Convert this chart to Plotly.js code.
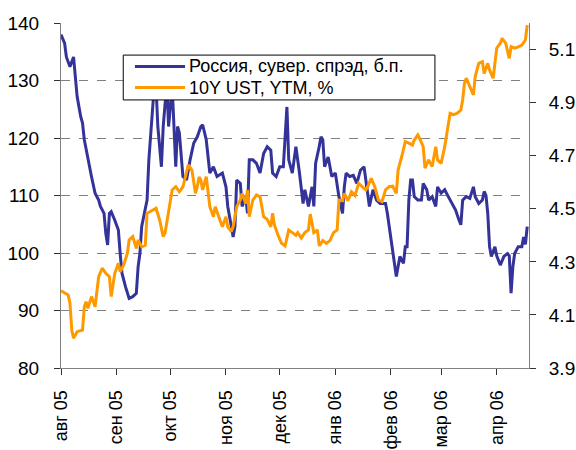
<!DOCTYPE html>
<html>
<head>
<meta charset="utf-8">
<script src="https://cdn.plot.ly/plotly-3.0.1.min.js"></script>
<style>html,body{margin:0;padding:0;background:#fff;}#chart{width:576px;height:450px;}</style>
</head>
<body>
<div id="chart"></div>
<script>
// Russia sovereign spread, b.p. (left axis)
const spreadDates = ['2005-08-01','2005-08-03','2005-08-04','2005-08-06','2005-08-08','2005-08-09','2005-08-10','2005-08-12','2005-08-13','2005-08-14','2005-08-16','2005-08-18','2005-08-20','2005-08-22','2005-08-23','2005-08-25','2005-08-26','2005-08-27','2005-08-28','2005-08-29','2005-08-31',
'2005-09-02','2005-09-03','2005-09-04','2005-09-06','2005-09-08','2005-09-10','2005-09-12','2005-09-13','2005-09-14','2005-09-15','2005-09-17','2005-09-18','2005-09-19','2005-09-20','2005-09-21','2005-09-22','2005-09-23','2005-09-24','2005-09-26','2005-09-27','2005-09-29','2005-09-30',
'2005-10-02','2005-10-03','2005-10-04','2005-10-05','2005-10-06','2005-10-08','2005-10-10','2005-10-12','2005-10-14','2005-10-16','2005-10-18','2005-10-19','2005-10-21','2005-10-23','2005-10-25','2005-10-27','2005-10-30',
'2005-11-01','2005-11-02','2005-11-04','2005-11-05','2005-11-06','2005-11-07','2005-11-09','2005-11-10','2005-11-12','2005-11-13','2005-11-14','2005-11-16','2005-11-18','2005-11-20','2005-11-22','2005-11-24','2005-11-26','2005-11-27','2005-11-29',
'2005-12-01','2005-12-03','2005-12-05','2005-12-06','2005-12-08','2005-12-10','2005-12-11','2005-12-12','2005-12-14','2005-12-15','2005-12-17','2005-12-19','2005-12-20','2005-12-21','2005-12-23','2005-12-24','2005-12-25','2005-12-26','2005-12-28','2005-12-30',
'2006-01-01','2006-01-03','2006-01-05','2006-01-06','2006-01-07','2006-01-09','2006-01-11','2006-01-13','2006-01-15','2006-01-17','2006-01-18','2006-01-19','2006-01-20','2006-01-22','2006-01-24','2006-01-26','2006-01-29','2006-01-30','2006-01-31',
'2006-02-02','2006-02-04','2006-02-06','2006-02-08','2006-02-09','2006-02-10','2006-02-11','2006-02-12','2006-02-13','2006-02-14','2006-02-16','2006-02-18','2006-02-19','2006-02-21','2006-02-22','2006-02-24','2006-02-26','2006-02-27',
'2006-03-01','2006-03-03','2006-03-05','2006-03-07','2006-03-09','2006-03-11','2006-03-12','2006-03-13','2006-03-15','2006-03-17','2006-03-19','2006-03-20','2006-03-22','2006-03-24','2006-03-25','2006-03-26','2006-03-27','2006-03-28','2006-03-29','2006-03-31',
'2006-04-01','2006-04-03','2006-04-05','2006-04-07','2006-04-08','2006-04-09','2006-04-10','2006-04-11','2006-04-13','2006-04-15','2006-04-16','2006-04-17','2006-04-18'];
const spreadValues = [138.0,136.5,134.1,132.4,134.1,130.7,127.2,123.7,122.6,119.7,116.2,113.3,110.4,109.2,108.1,106.9,103.4,101.4,106.9,107.2,105.7,
104.0,99.9,96.5,94.1,92.1,92.4,93.0,97.6,99.9,104.6,108.1,109.2,116.2,120.8,123.7,129.0,129.0,122.0,115.0,122.0,129.5,122.0,
129.0,120.8,115.0,122.0,120.9,113.3,112.7,116.2,119.1,120.2,122.0,122.3,119.7,113.9,115.0,113.3,113.9,
111.5,108.1,104.6,102.8,104.6,112.7,112.1,108.1,109.8,106.9,116.2,116.2,115.6,113.9,117.3,118.5,117.9,113.9,113.3,
115.0,115.0,125.4,116.2,113.9,118.5,116.5,113.9,108.6,111.0,108.1,111.5,108.1,115.6,118.5,120.2,119.7,115.0,116.7,113.3,
113.9,109.8,106.9,111.5,113.9,113.3,113.5,112.1,114.4,115.0,112.7,110.4,108.1,111.0,109.2,108.6,108.6,106.9,104.6,
100.5,95.9,99.4,98.2,101.1,101.1,109.2,112.7,112.7,109.8,109.2,109.2,112.1,111.0,109.2,109.8,108.1,111.5,
110.4,111.0,109.8,108.6,107.5,105.7,104.9,109.2,109.8,109.5,111.5,109.8,108.6,109.2,110.7,110.0,106.9,101.1,99.4,101.1,
99.5,97.9,99.4,99.9,99.5,93.0,97.6,99.9,101.1,101.1,102.8,101.5,104.6];

// 10Y UST yield to maturity, % (right axis)
const ustDates = ['2005-08-01','2005-08-05','2005-08-06','2005-08-07','2005-08-08','2005-08-10','2005-08-13','2005-08-14','2005-08-15','2005-08-16','2005-08-18','2005-08-20','2005-08-22','2005-08-24','2005-08-26','2005-08-28','2005-08-29','2005-08-31',
'2005-09-02','2005-09-03','2005-09-05','2005-09-07','2005-09-08','2005-09-10','2005-09-12','2005-09-13','2005-09-15','2005-09-17','2005-09-18','2005-09-21','2005-09-23','2005-09-25','2005-09-27','2005-09-28','2005-09-30',
'2005-10-02','2005-10-04','2005-10-06','2005-10-08','2005-10-10','2005-10-11','2005-10-13','2005-10-14','2005-10-15','2005-10-16','2005-10-17','2005-10-18','2005-10-19','2005-10-21','2005-10-23','2005-10-25','2005-10-26','2005-10-28','2005-10-30',
'2005-11-01','2005-11-02','2005-11-04','2005-11-05','2005-11-07','2005-11-09','2005-11-10','2005-11-12','2005-11-13','2005-11-14','2005-11-16','2005-11-18','2005-11-20','2005-11-22','2005-11-24','2005-11-26','2005-11-27','2005-11-28','2005-11-30',
'2005-12-02','2005-12-04','2005-12-06','2005-12-08','2005-12-10','2005-12-11','2005-12-13','2005-12-15','2005-12-17','2005-12-18','2005-12-20','2005-12-22','2005-12-23','2005-12-25','2005-12-27','2005-12-29','2005-12-31',
'2006-01-02','2006-01-03','2006-01-05','2006-01-06','2006-01-08','2006-01-10','2006-01-12','2006-01-14','2006-01-16','2006-01-18','2006-01-19','2006-01-21','2006-01-23','2006-01-25','2006-01-27','2006-01-29','2006-01-31',
'2006-02-02','2006-02-04','2006-02-05','2006-02-07','2006-02-09','2006-02-11','2006-02-13','2006-02-14','2006-02-16','2006-02-17','2006-02-19','2006-02-20','2006-02-21','2006-02-22','2006-02-24','2006-02-26','2006-02-27',
'2006-03-01','2006-03-03','2006-03-04','2006-03-06','2006-03-08','2006-03-10','2006-03-12','2006-03-13','2006-03-14','2006-03-15','2006-03-17','2006-03-19','2006-03-20','2006-03-22','2006-03-24','2006-03-25','2006-03-27','2006-03-28','2006-03-30',
'2006-04-01','2006-04-03','2006-04-04','2006-04-06','2006-04-08','2006-04-09','2006-04-11','2006-04-13','2006-04-15','2006-04-17','2006-04-18'];
const ustValues = [4.191,4.175,4.144,4.043,4.012,4.037,4.043,4.131,4.150,4.125,4.169,4.131,4.244,4.276,4.257,4.244,4.169,4.257,
4.295,4.263,4.288,4.332,4.382,4.395,4.351,4.382,4.357,4.363,4.483,4.495,4.502,4.458,4.395,4.408,4.483,
4.571,4.583,4.564,4.583,4.634,4.665,4.646,4.596,4.558,4.583,4.620,4.608,4.571,4.621,4.508,4.470,4.508,4.470,4.432,
4.470,4.432,4.414,4.432,4.508,4.533,4.558,4.520,4.571,4.470,4.533,4.552,4.545,4.470,4.460,4.432,4.483,4.440,4.401,
4.370,4.360,4.420,4.410,4.400,4.410,4.390,4.410,4.420,4.480,4.410,4.420,4.360,4.380,4.370,4.380,4.410,
4.420,4.533,4.530,4.558,4.530,4.564,4.550,4.596,4.583,4.571,4.583,4.615,4.583,4.533,4.527,4.571,4.583,
4.585,4.558,4.646,4.696,4.753,4.747,4.740,4.759,4.778,4.765,4.734,4.653,4.671,4.684,4.659,4.734,4.684,
4.671,4.734,4.772,4.860,4.855,4.860,4.872,4.910,4.973,4.992,4.960,4.929,4.998,5.048,5.054,5.010,5.048,5.023,4.992,
5.105,5.124,5.142,5.124,5.067,5.111,5.105,5.110,5.117,5.136,5.192];

const monthTicks = ['2005-08-01','2005-09-01','2005-10-01','2005-11-01','2005-12-01','2006-01-01','2006-02-01','2006-03-01','2006-04-01'];
const monthLabels = ['авг 05','сен 05','окт 05','ноя 05','дек 05','янв 06','фев 06','мар 06','апр 06'];
const seriesNames = ['Россия, сувер. спрэд, б.п.', '10Y UST, YTM, %'];
const seriesColors = ['#333399', '#FF9900'];

const FONT = 'Liberation Sans, Arial, sans-serif';
const data = [
  {x: spreadDates, y: spreadValues, name: seriesNames[0], type: 'scatter', mode: 'lines',
   line: {color: seriesColors[0], width: 3}, yaxis: 'y'},
  {x: ustDates, y: ustValues, name: seriesNames[1], type: 'scatter', mode: 'lines',
   line: {color: seriesColors[1], width: 3}, yaxis: 'y2'}
];

// legend box drawn over the plot (paper coordinates)
const LEG = {x0: 0.133, x1: 0.799, y0: 0.777, y1: 0.907, s0: 0.158, s1: 0.265, tx: 0.272, rows: [0.874, 0.813]};
const shapes = [
  {type: 'rect', xref: 'paper', yref: 'paper', x0: LEG.x0, x1: LEG.x1, y0: LEG.y0, y1: LEG.y1,
   fillcolor: '#fff', line: {color: '#000', width: 1}, layer: 'above'}
];
const annotations = [];
seriesNames.forEach((nm, i) => {
  shapes.push({type: 'line', xref: 'paper', yref: 'paper', x0: LEG.s0, x1: LEG.s1, y0: LEG.rows[i], y1: LEG.rows[i],
    line: {color: seriesColors[i], width: 3}, layer: 'above'});
  annotations.push({xref: 'paper', yref: 'paper', x: LEG.tx, y: LEG.rows[i], xanchor: 'left', yanchor: 'middle',
    text: nm, showarrow: false, borderpad: 0, font: {family: FONT, size: 18, color: '#000'}});
});

const axisCommon = {showline: true, linecolor: '#808080', linewidth: 1, ticks: 'outside', ticklen: 6,
  tickcolor: '#333', zeroline: false, tickfont: {family: FONT, size: 19, color: '#000'}};
const layout = {
  width: 576, height: 450,
  margin: {l: 61, r: 47, t: 23, b: 82, pad: 0},
  paper_bgcolor: '#fff', plot_bgcolor: '#fff',
  showlegend: false,
  shapes: shapes,
  annotations: annotations,
  xaxis: Object.assign({}, axisCommon, {type: 'date', range: ['2005-08-01', '2006-04-19'],
    tickmode: 'array', tickvals: monthTicks, ticktext: monthLabels, tickangle: -90, showgrid: false,
    ticklabelstandoff: 8, tickfont: {family: FONT, size: 18, color: '#000'}}),
  yaxis: Object.assign({}, axisCommon, {range: [80, 140], tick0: 80, dtick: 10, showgrid: true,
    gridcolor: '#808080', griddash: 'dash', gridwidth: 1, ticklabelstandoff: 11}),
  yaxis2: Object.assign({}, axisCommon, {overlaying: 'y', side: 'right', range: [3.9, 5.2], tick0: 3.9,
    dtick: 0.2, tickformat: '.1f', showgrid: false, ticklabelstandoff: 9})
};
Plotly.newPlot('chart', data, layout, {displayModeBar: false, staticPlot: true});
</script>
</body>
</html>
